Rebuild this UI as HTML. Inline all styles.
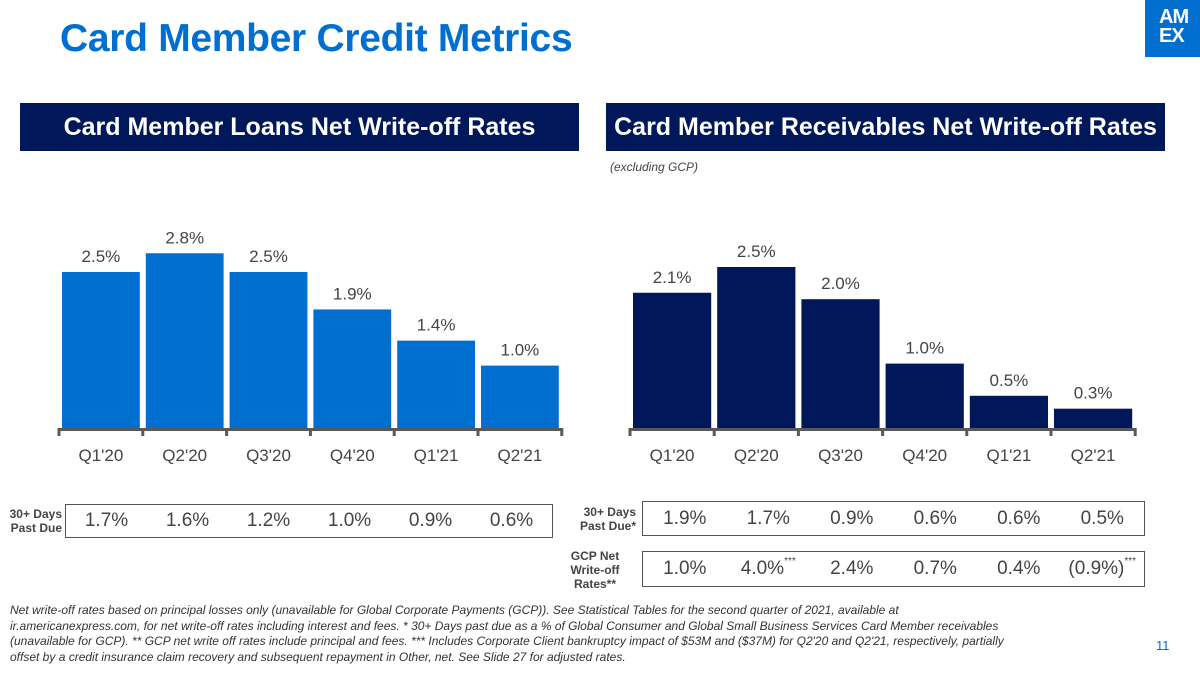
<!DOCTYPE html>
<html><head><meta charset="utf-8"><style>
body{margin:0;width:1200px;height:675px;background:#fff;font-family:"Liberation Sans",sans-serif;position:relative;overflow:hidden}
.abs{position:absolute}
.title{left:60px;top:17px;font-size:39px;font-weight:bold;color:#006fcf;letter-spacing:-0.3px}
.hdr{background:#00175a;color:#fff;font-size:25px;font-weight:bold;height:48px;line-height:48px;text-align:center;top:103px}
.tbl{border:1.5px solid #555;display:flex;box-sizing:border-box}
.tbl span{flex:1;text-align:center;font-size:19px;color:#444}
.lbl{font-size:12px;font-weight:bold;color:#444;text-align:right;line-height:14px}
sup{font-size:10px;position:relative;top:-2px;vertical-align:top}
.note{left:10px;top:603px;width:1012px;font-size:12px;font-style:italic;color:#333;line-height:15.5px}
</style></head><body>
<div class="abs title">Card Member Credit Metrics</div>
<div class="abs" style="left:1145px;top:0;width:55px;height:57px;background:#006fcf;color:#fff;font-weight:bold;font-size:20px;line-height:19px;padding:8px 0 0 14px;box-sizing:border-box;overflow:hidden;letter-spacing:-1px">AM<br>EX</div>
<div class="abs hdr" style="left:20px;width:559px">Card Member Loans Net Write-off Rates</div>
<div class="abs hdr" style="left:606px;width:559px">Card Member Receivables Net Write-off Rates</div>
<div class="abs" style="left:610px;top:160px;font-size:12px;font-style:italic;color:#444">(excluding GCP)</div>
<svg class="abs" style="left:0;top:0" width="1200" height="675" id="chart"></svg>

<div class="abs lbl" style="left:0;top:507px;width:62px">30+ Days<br>Past Due</div>
<div class="abs tbl" style="left:65px;top:504px;width:488px;height:34px;align-items:center">
<span>1.7%</span><span>1.6%</span><span>1.2%</span><span>1.0%</span><span>0.9%</span><span>0.6%</span></div>
<div class="abs lbl" style="left:560px;top:505px;width:76px">30+ Days<br>Past Due*</div>
<div class="abs tbl" style="left:642px;top:501px;width:503px;height:35px;align-items:center">
<span>1.9%</span><span>1.7%</span><span>0.9%</span><span>0.6%</span><span>0.6%</span><span>0.5%</span></div>
<div class="abs lbl" style="left:560px;top:549px;width:70px;text-align:center">GCP Net<br>Write-off<br>Rates**</div>
<div class="abs tbl" style="left:642px;top:551px;width:503px;height:36px;align-items:center">
<span>1.0%</span><span>4.0%<sup>***</sup></span><span>2.4%</span><span>0.7%</span><span>0.4%</span><span>(0.9%)<sup>***</sup></span></div>
<div class="abs note">Net write-off rates based on principal losses only (unavailable for Global Corporate Payments (GCP)). See Statistical Tables for the second quarter of 2021, available at ir.americanexpress.com, for net write-off rates including interest and fees. * 30+ Days past due as a % of Global Consumer and Global Small Business Services Card Member receivables (unavailable for GCP). ** GCP net write off rates include principal and fees. *** Includes Corporate Client bankruptcy impact of $53M and ($37M) for Q2'20 and Q2'21, respectively, partially offset by a credit insurance claim recovery and subsequent repayment in Other, net. See Slide 27 for adjusted rates.</div>
<div class="abs" style="left:1156px;top:638px;font-size:13px;color:#006fcf">11</div>
<script>
const categories=["Q1'20","Q2'20","Q3'20","Q4'20","Q1'21","Q2'21"];
const loansValues=[2.5,2.8,2.5,1.9,1.4,1.0];
const loansLabels=["2.5%","2.8%","2.5%","1.9%","1.4%","1.0%"];
const recValues=[2.1,2.5,2.0,1.0,0.5,0.3];
const recLabels=["2.1%","2.5%","2.0%","1.0%","0.5%","0.3%"];
const svg=document.getElementById('chart');
const NS='http://www.w3.org/2000/svg';
function mk(t,a){const e=document.createElementNS(NS,t);for(const k in a)e.setAttribute(k,a[k]);svg.appendChild(e);return e;}
function draw(x0,pitch,scale,vals,labels,color,prefix){
  const base=428;
  vals.forEach((v,i)=>{
    const h=v*scale;
    const r=mk('rect',{x:x0+i*pitch+3,y:base-h,width:pitch-6,height:h,fill:color});
    
    
    const t=mk('text',{x:x0+i*pitch+pitch/2,y:base-h-10,'text-anchor':'middle','font-size':'17','fill':'#444','font-family':'Liberation Sans'});
    t.textContent=labels[i];
    
    
    const c=mk('text',{x:x0+i*pitch+pitch/2,y:461,'text-anchor':'middle','font-size':'17','fill':'#444','font-family':'Liberation Sans'});
    c.textContent=categories[i];
    
    
  });
  const ax=mk('line',{x1:x0-1,x2:x0+pitch*vals.length+1,y1:429.5,y2:429.5,stroke:'#595959','stroke-width':3});
  
  
  for(let i=0;i<=vals.length;i++){
    mk('line',{x1:x0+i*pitch,x2:x0+i*pitch,y1:428,y2:436,stroke:'#595959','stroke-width':3});
  }
}
draw(59,83.8,62.4,loansValues,loansLabels,'#006fcf','loans');
draw(630,84.2,64.4,recValues,recLabels,'#00175a','receivables');
</script>
</body></html>
